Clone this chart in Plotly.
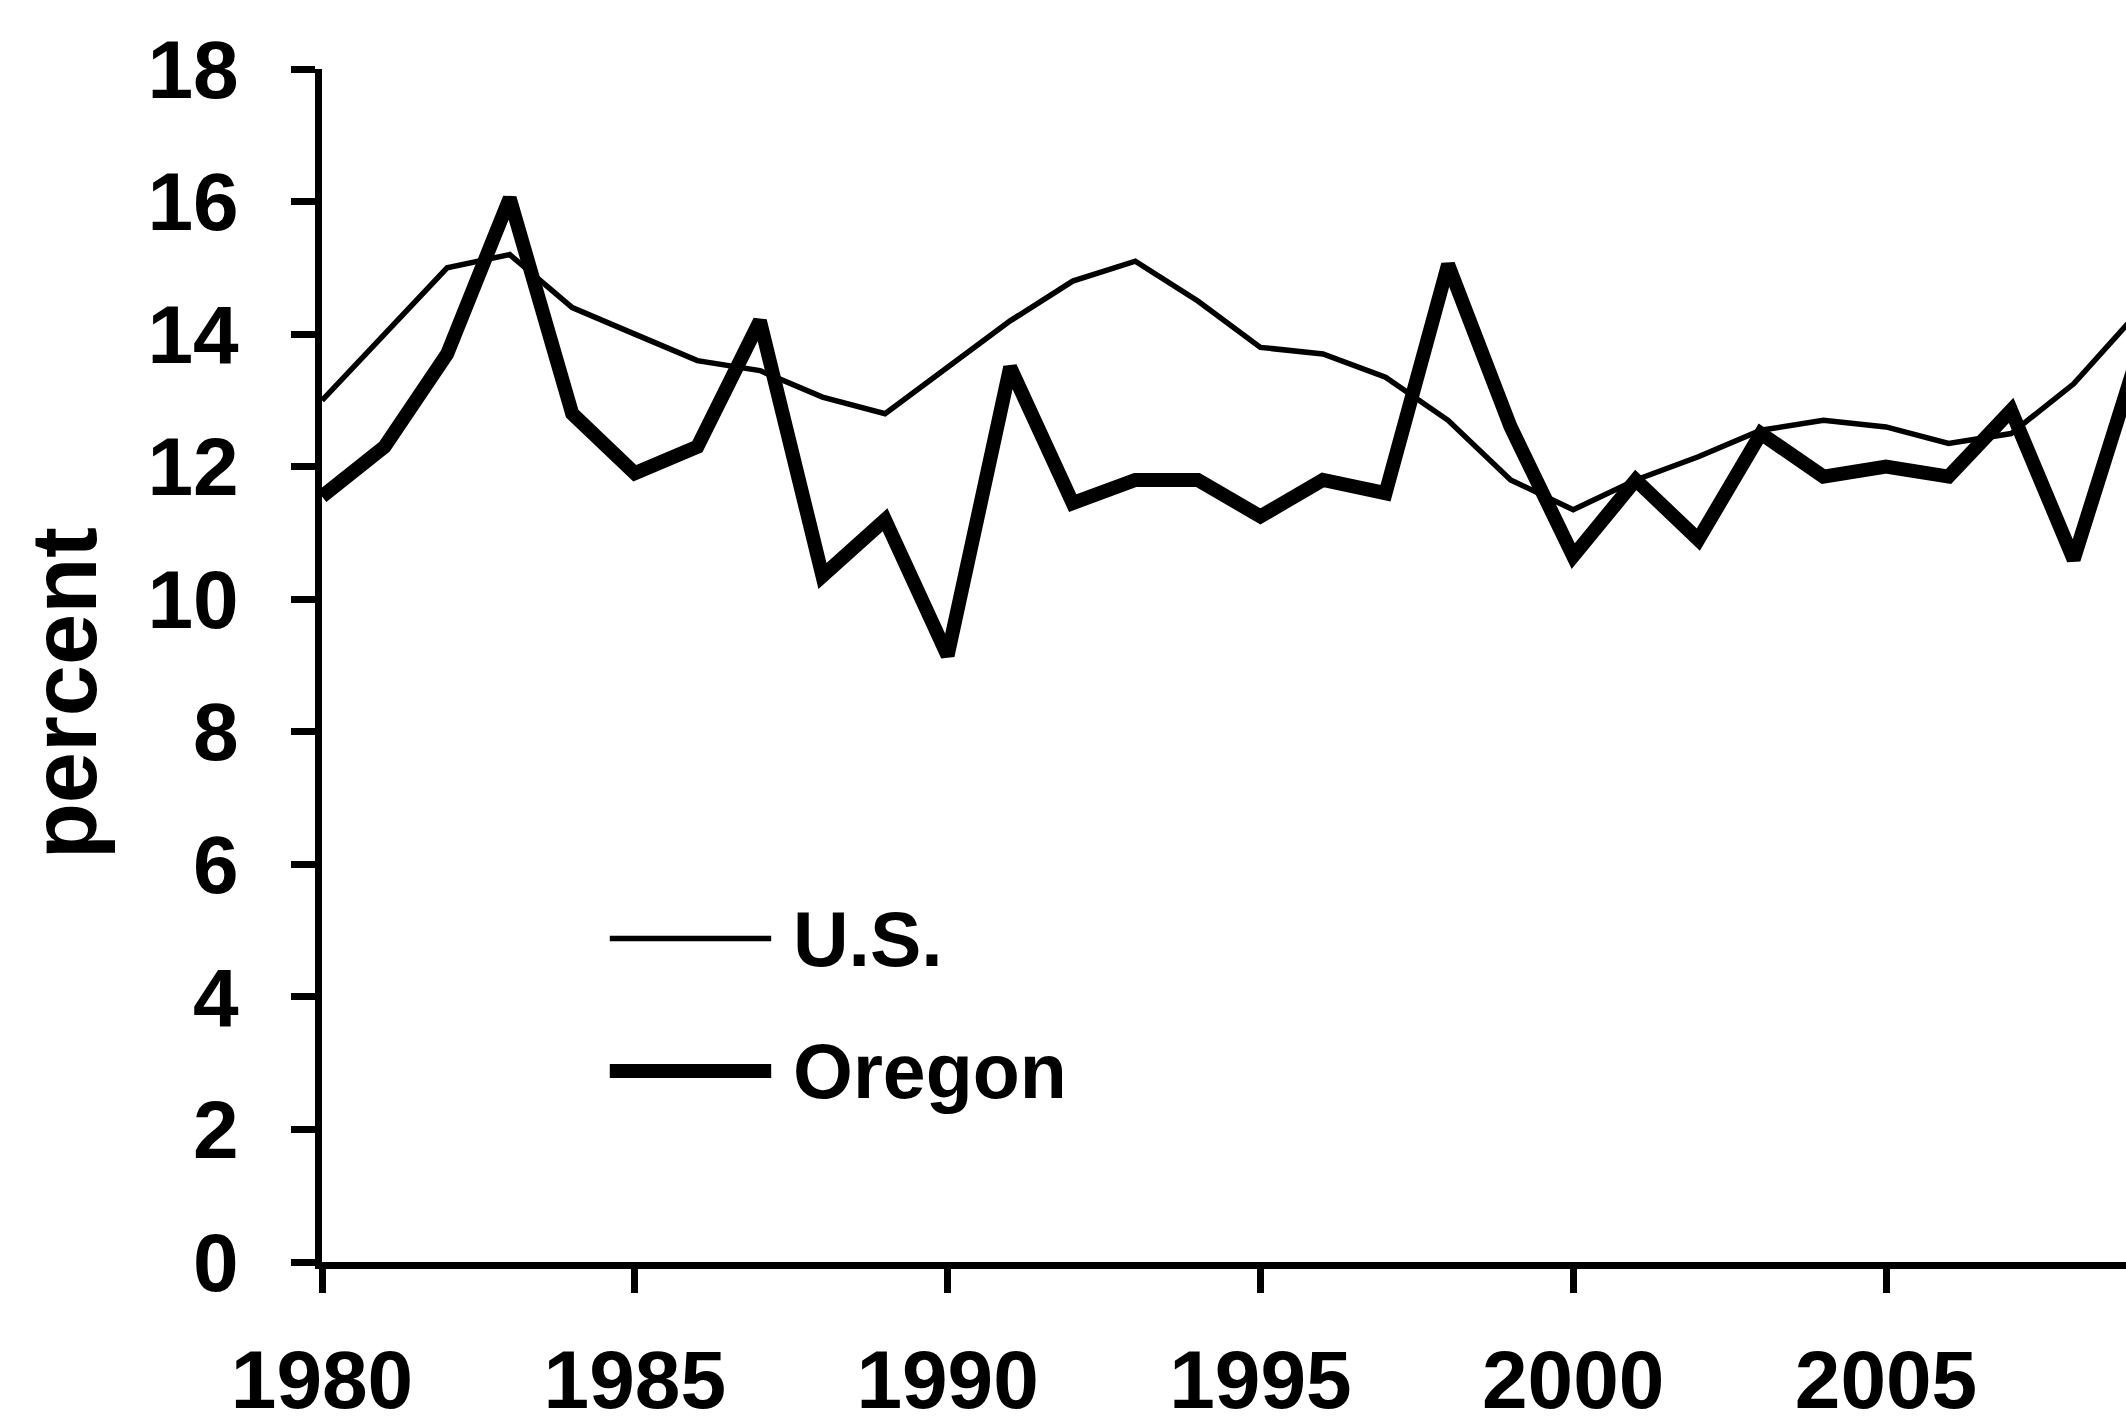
import plotly.graph_objects as go

years = list(range(1980, 2010))
us_rate = [13.0, 14.0, 15.0, 15.2, 14.4, 14.0, 13.6, 13.45, 13.05, 12.8,
           13.5, 14.2, 14.8, 15.1, 14.5, 13.8, 13.7, 13.35, 12.7, 11.8,
           11.35, 11.8, 12.15, 12.55, 12.7, 12.6, 12.35, 12.5, 13.25, 14.3]
oregon_rate = [11.55, 12.3, 13.7, 16.05, 12.8, 11.9, 12.3, 14.2, 10.35, 11.2,
               9.15, 13.5, 11.45, 11.8, 11.8, 11.25, 11.8, 11.6, 15.05, 12.6,
               10.65, 11.8, 10.9, 12.5, 11.85, 12.0, 11.85, 12.85, 10.6, 13.6]
series_names = ["U.S.", "Oregon"]
x_ticks = [1980, 1985, 1990, 1995, 2000, 2005]
y_ticks = [0, 2, 4, 6, 8, 10, 12, 14, 16, 18]
y_title = "percent"

FONT = "Liberation Sans, Arial, Helvetica, sans-serif"
W, H = 2126, 1426
ML, MR, MT, MB = 322, 0, 69, 164
plot_w = W - ML - MR
px_per_year = 62.56
x_end = 1980 + plot_w / px_per_year

fig = go.Figure()
fig.add_trace(go.Scatter(x=years, y=us_rate, mode="lines", name=series_names[0],
                         line=dict(color="black", width=5.5), showlegend=False))
fig.add_trace(go.Scatter(x=years, y=oregon_rate, mode="lines", name=series_names[1],
                         line=dict(color="black", width=14), showlegend=False))

axis_common = dict(showline=True, linecolor="black", linewidth=7,
                   ticks="outside", ticklen=24, tickwidth=7, tickcolor="black",
                   showgrid=False, zeroline=False, automargin=False,
                   tickfont=dict(family=FONT, size=82, color="black", weight="bold"))

fig.update_xaxes(range=[1980, x_end], tickmode="array", tickvals=x_ticks,
                 ticktext=[str(v) for v in x_ticks], ticklabelstandoff=17,
                 **axis_common)
fig.update_yaxes(range=[0, 18], tickmode="array", tickvals=y_ticks,
                 ticktext=[str(v) for v in y_ticks], ticklabelstandoff=36,
                 **axis_common)

# y-axis title
fig.add_annotation(text=y_title, textangle=-90, xref="paper", yref="y",
                   x=(64 - ML) / plot_w, y=8.58, showarrow=False,
                   xanchor="center", yanchor="middle",
                   font=dict(family=FONT, size=92, color="black", weight="bold"))

# custom legend (key lines + labels)
legend_y = [4.88, 2.88]
legend_w = [5.5, 14]
lx0, lx1, ltx = 1984.6, 1987.18, 1987.5
for name, yy, lw in zip(series_names, legend_y, legend_w):
    fig.add_shape(type="line", xref="x", yref="y", x0=lx0, x1=lx1, y0=yy, y1=yy,
                  line=dict(color="black", width=lw))
    fig.add_annotation(text=name, xref="x", yref="y", x=ltx, y=yy,
                       xanchor="left", yanchor="middle", showarrow=False,
                       font=dict(family=FONT, size=77, color="black", weight="bold"))

fig.update_layout(width=W, height=H, margin=dict(l=ML, r=MR, t=MT, b=MB, pad=0),
                  plot_bgcolor="white", paper_bgcolor="white", showlegend=False)

fig.write_html("out.html", config={"displayModeBar": False},
               post_script="document.body.style.margin='0px';document.body.style.padding='0px';document.body.style.overflow='hidden';")
